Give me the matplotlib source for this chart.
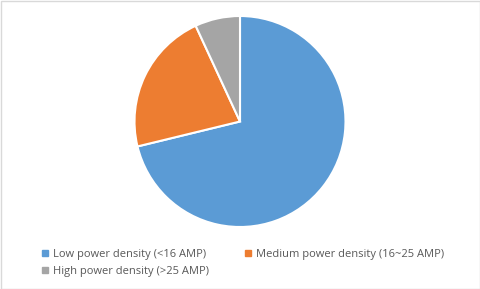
import matplotlib
matplotlib.use('Agg')
import matplotlib.pyplot as plt
from matplotlib.lines import Line2D

labels = ["Low power density (<16 AMP)",
          "Medium power density (16~25 AMP)",
          "High power density (>25 AMP)"]
shares = [71.2, 21.9, 6.9]
colors = ["#5b9bd5", "#ed7d31", "#a5a5a5"]

W, H = 481, 289
fig = plt.figure(figsize=(W / 100, H / 100), dpi=100)
fig.patch.set_facecolor("white")
plt.rcParams['font.family'] = ['Open Sans', 'DejaVu Sans']

# pie placed in pixel terms
cx, cy, r = 240, 121.5, 105.5
ax = fig.add_axes([(cx - r) / W, (H - cy - r) / H, 2 * r / W, 2 * r / H])
ax.pie(shares, colors=colors, startangle=90, counterclock=False,
       wedgeprops=dict(edgecolor="white", linewidth=1.5))
ax.set_aspect("equal")
ax.set_xlim(-1, 1)
ax.set_ylim(-1, 1)
ax.axis("off")

# outer border of the chart area
border = plt.Rectangle((0.5 / W, 0.5 / H), 1 - 1.5 / W, 1 - 1.5 / H,
                       transform=fig.transFigure, fill=False,
                       edgecolor="#d9d9d9", linewidth=1)
fig.patches.append(border)

handles = [Line2D([], [], marker="s", linestyle="", markersize=4.5,
                  markerfacecolor=c, markeredgecolor=c) for c in colors]
# column-first fill: reorder so rows read Low, Medium / High
order = [0, 2, 1]
leg = fig.legend([handles[i] for i in order], [labels[i] for i in order],
                 ncol=2, loc="upper left", bbox_to_anchor=(42 / W, 1 - 248.5 / H),
                 frameon=False, fontsize=8, handlelength=0.55, handletextpad=0.45,
                 columnspacing=3.2, labelspacing=0.55, borderpad=0,
                 borderaxespad=0)
for t in leg.get_texts():
    t.set_color("#595959")

fig.savefig("out.png", dpi=100)
